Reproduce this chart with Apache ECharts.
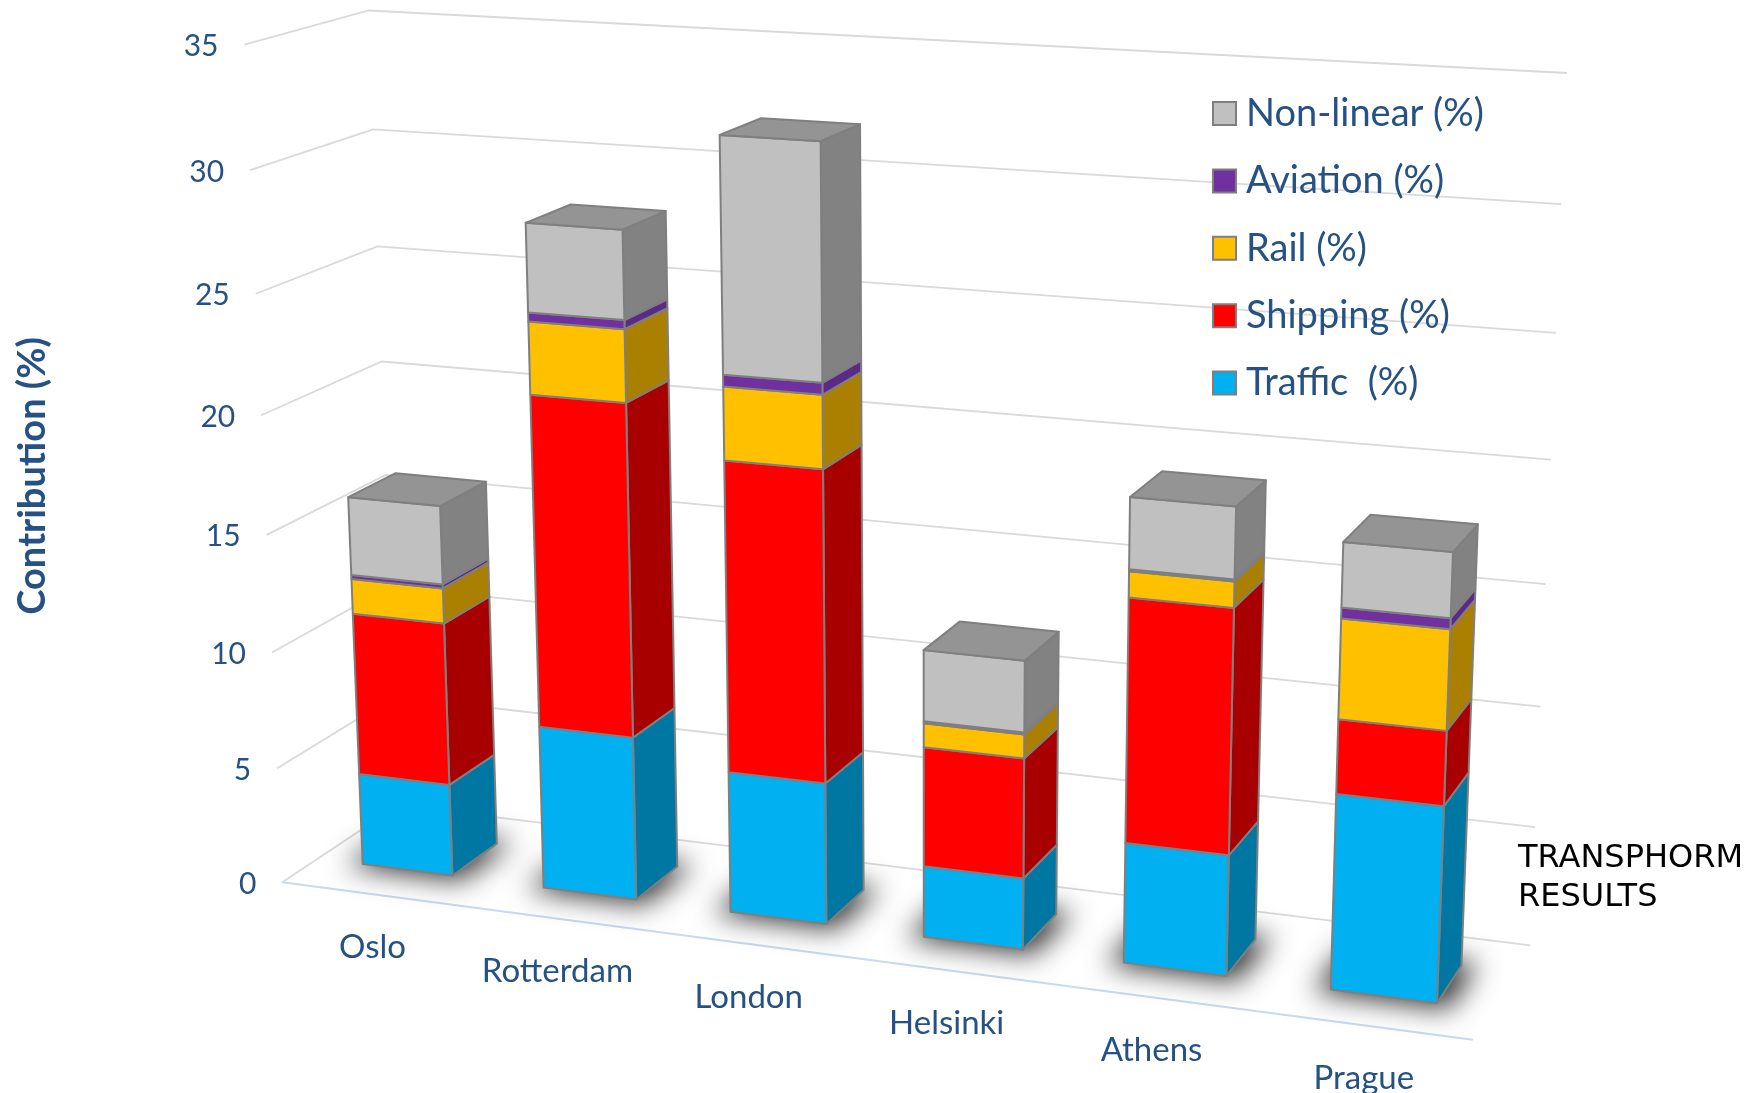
<!DOCTYPE html>
<html><head><meta charset="utf-8">
<style>html,body{margin:0;padding:0;background:#fff}#c{width:1759px;height:1093px}</style>
<script src="https://cdn.jsdelivr.net/npm/echarts@6/dist/echarts.min.js"></script>
</head><body><div id="c"></div>
<script>
const categories = ['Oslo','Rotterdam','London','Helsinki','Athens','Prague'];
const valueTicks = [0,5,10,15,20,25,30,35];
const traffic   = [4,7,6,3,5,8];
const shipping  = [7,14,13,5,10,3];
const rail      = [1.5,3,3,1.0,1.05,4];
const aviation  = [0.17,0.37,0.48,0.08,0.08,0.43];
const nonLinear = [3.33,3.63,9.52,2.94,2.87,2.57];

const INK = '#255184';
const EDGE = '#7f7f7f';
const LATO = 'Lato, "Open Sans", sans-serif';
// perspective camera of the 3-D plot box (x along categories, y value/max, z depth)
const CAM = [1.04596,-0.05132,0.13817,0.28233,0.05545,-0.84009,-0.03165,0.88223,-0.09813,-0.05513,0.05642];
const YMAX = 35, Z0 = 0.30, Z1 = 0.705, FAR = 4000;
function cam(X,Y,Z){
  const h=CAM, w=h[8]*X+h[9]*Y+h[10]*Z+1;
  return [1000*(h[0]*X+h[1]*Y+h[2]*Z+h[3])/w, 1000*(h[4]*X+h[5]*Y+h[6]*Z+h[7])/w];
}
// scale data through the hidden cartesian axes, then into the box
function world(params,api,cat,val){
  const cs=params.coordSys, c=api.coord([cat,val]);
  return [(c[0]-cs.x)/cs.width,(cs.y+cs.height-c[1])/cs.height];
}
function barItem(front,side,top){
  return function(params,api){
    const i=api.value(0), a=world(params,api,i,api.value(1)), b=world(params,api,i,api.value(2));
    const half=api.size([1,0])[0]/params.coordSys.width*0.25;
    const xl=a[0]-half, xr=a[0]+half;
    const poly=(pts,fill)=>({type:'polygon',shape:{points:pts},
      style:{fill,stroke:EDGE,lineWidth:2,lineJoin:'round'}});
    const kids=[];
    if(api.value(1)===0){
      // soft floor shadow: only the blur of an off-canvas copy of the footprint lands on the page
      const e=0.011, pts=[cam(xl-e,0,Z0-0.04),cam(xr+e,0,Z0-0.04),cam(xr+e,0,Z1+0.04),cam(xl-e,0,Z1+0.04)];
      kids.push({type:'polygon',shape:{points:pts.map(p=>[p[0]-FAR,p[1]])},
        style:{fill:'#000',shadowBlur:28,shadowColor:'rgba(0,0,0,0.8)',shadowOffsetX:FAR,shadowOffsetY:0}});
    }
    kids.push(poly([cam(xr,a[1],Z0),cam(xr,a[1],Z1),cam(xr,b[1],Z1),cam(xr,b[1],Z0)],side));
    kids.push(poly([cam(xl,a[1],Z0),cam(xr,a[1],Z0),cam(xr,b[1],Z0),cam(xl,b[1],Z0)],front));
    if(top) kids.push(poly([cam(xl,b[1],Z0),cam(xr,b[1],Z0),cam(xr,b[1],Z1),cam(xl,b[1],Z1)],top));
    return {type:'group',children:kids};
  };
}
function stackData(arrs,idx){
  return categories.map((_,i)=>{
    let s=0; for(let k=0;k<idx;k++) s+=arrs[k][i];
    return [i,s,s+arrs[idx][i]];
  });
}
const layers=[traffic,shipping,rail,aviation,nonLinear];
const seriesDefs=[
  ['Traffic  (%)','#00b0f0','#0077a3',null],
  ['Shipping (%)','#ff0000','#a80000',null],
  ['Rail (%)','#ffc000','#ab8000',null],
  ['Aviation (%)','#7030a0','#5b2a86',null],
  ['Non-linear (%)','#c0c0c0','#828282','#949494']
];
const gridSeries={type:'custom',silent:true,z:1,data:valueTicks.map(v=>[0,v]),
  renderItem(params,api){
    const v=api.value(1), y=world(params,api,0,v)[1];
    const p0=cam(0,y,0),p1=cam(0,y,1),p2=cam(1,y,1);
    return {type:'group',children:[
      {type:'polyline',shape:{points:[p0,p1,p2]},style:{stroke:'#d9d9d9',lineWidth:1.8,fill:null}},
      {type:'text',style:{text:String(v),x:p0[0]-26,y:p0[1]+2,align:'right',verticalAlign:'middle',
        fill:INK,font:'30px '+LATO}}
    ]};
  }};
const catSeries={type:'custom',silent:true,z:2,data:categories.map((_,i)=>[i,0]),
  renderItem(params,api){
    const i=api.value(0), w=world(params,api,i,0);
    const p=cam(w[0],0,0), kids=[];
    if(i===0) kids.push({type:'line',shape:{x1:cam(0,0,0)[0],y1:cam(0,0,0)[1],x2:cam(1,0,0)[0],y2:cam(1,0,0)[1]},
      style:{stroke:'#c9d9ee',lineWidth:2}});
    kids.push({type:'text',style:{text:categories[i],x:p[0],y:p[1]+53,align:'center',verticalAlign:'middle',
      fill:INK,font:'33px '+LATO}});
    return {type:'group',children:kids};
  }};
const option={
  animation:false,
  backgroundColor:'#fff',
  grid:{left:0,top:0,width:600,height:350,show:false},
  xAxis:{type:'category',data:categories,show:false},
  yAxis:{type:'value',min:0,max:YMAX,interval:5,show:false},
  legend:{
    orient:'vertical',left:1212,top:94.5,padding:0,itemGap:29.4,
    itemWidth:23,itemHeight:23,icon:'rect',
    itemStyle:{borderColor:EDGE,borderWidth:2},
    data:['Non-linear (%)','Aviation (%)','Rail (%)','Shipping (%)','Traffic  (%)'],
    textStyle:{color:INK,fontFamily:LATO,fontSize:38,padding:[0,0,0,5]},
    selectedMode:false
  },
  graphic:[
    {type:'text',x:33,y:476,rotation:Math.PI/2,
      style:{text:'Contribution (%)',align:'center',verticalAlign:'middle',fill:INK,font:'bold 38px '+LATO}},
    {type:'text',x:1518,y:839,
      style:{text:'TRANSPHORM\nRESULTS',fill:'#000',font:'32px "DejaVu Sans"',lineHeight:39}}
  ],
  series:[gridSeries,catSeries].concat(seriesDefs.map((d,k)=>({
    type:'custom',name:d[0],z:3+k,silent:true,
    itemStyle:{color:d[1]},
    encode:{x:0,y:[1,2]},
    data:stackData(layers,k),
    renderItem:barItem(d[1],d[2],d[3])
  })))
};
echarts.init(document.getElementById('c'),null,{renderer:'canvas'}).setOption(option);
</script></body></html>
